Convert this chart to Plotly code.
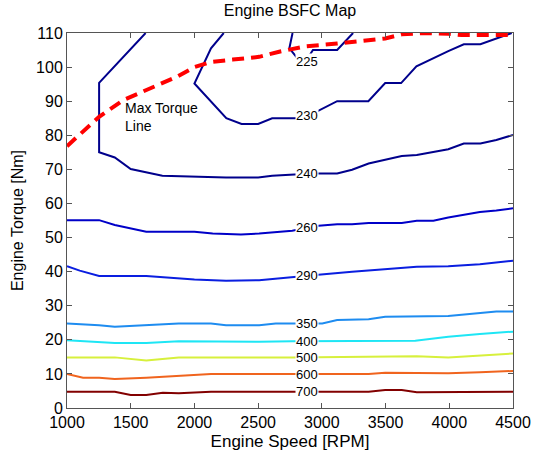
import plotly.graph_objects as go
import numpy as np

# ---- data ----
c225_x = [2770, 2745, 2800, 2870, 2930, 3120, 3245]
c225_y = [110, 105.5, 103.0, 101.5, 105, 105, 110]

c230_x = [2230, 2130, 2000, 2250, 2370, 2500, 2610, 2800, 2925, 3120, 3365, 3497, 3622, 3742, 3992, 4114, 4244, 4490]
c230_y = [110, 105.5, 95.2, 85, 83.3, 83.3, 85, 85, 86.3, 90, 90, 95.3, 95.3, 100.2, 104.7, 106.7, 106.7, 110]

c240_x = [1617, 1252, 1252, 1375, 1500, 1748, 2248, 2500, 2610, 2925, 3120, 3237, 3367, 3497, 3627, 3745, 3992, 4114, 4244, 4369, 4500]
c240_y = [110, 95.4, 75, 73.5, 70.1, 68.1, 67.6, 67.6, 68.1, 68.8, 68.8, 69.9, 71.7, 72.7, 73.9, 74.2, 75.9, 77.6, 77.6, 78.6, 80.1]

c260_x = [1000, 1252, 1375, 1622, 2000, 2143, 2365, 2508, 2768, 2950, 3120, 3237, 3367, 3627, 3745, 3875, 3992, 4240, 4369, 4500]
c260_y = [55.1, 55.1, 53.7, 51.7, 51.7, 51.2, 50.9, 51.2, 52, 53.4, 53.9, 53.9, 54.3, 54.3, 54.9, 54.9, 55.9, 57.5, 57.9, 58.6]

c290_x = [1000, 1100, 1252, 1622, 2000, 2248, 2508, 2768, 2950, 3237, 3497, 3745, 3992, 4240, 4500]
c290_y = [41.6, 40.3, 38.7, 38.7, 37.7, 37.3, 37.5, 38.3, 39, 40, 40.7, 41.4, 41.6, 42.2, 43.2]

c350_x = [1000, 1252, 1375, 1622, 1877, 2130, 2248, 2508, 2638, 3003, 3120, 3367, 3497, 3992, 4240, 4369, 4500]
c350_y = [24.8, 24.3, 23.8, 24.3, 24.8, 24.8, 24.3, 24.3, 24.8, 24.8, 25.8, 26, 26.8, 27, 27.8, 28.3, 28.3]

c400_x = [1000, 1375, 1622, 1877, 2508, 2768, 3733, 3992, 4240, 4500]
c400_y = [19.9, 19.1, 19.1, 19.6, 19.4, 19.6, 19.7, 20.9, 21.7, 22.4]

c500_x = [1000, 1375, 1622, 1877, 2768, 3497, 3745, 3992, 4240, 4500]
c500_y = [14.85, 14.85, 13.9, 14.85, 14.85, 15.0, 15.2, 14.85, 15.5, 16.0]

c600_x = [1000, 1126, 1252, 1375, 1622, 1877, 2130, 2768, 3367, 3497, 3992, 4240, 4500]
c600_y = [9.97, 8.9, 8.9, 8.5, 8.9, 9.4, 9.97, 9.97, 9.97, 10.35, 10.2, 10.5, 10.85]

c700_x = [1000, 1375, 1500, 1622, 1752, 1877, 2130, 2768, 3367, 3497, 3627, 3745, 4500]
c700_y = [4.78, 4.78, 3.8, 3.8, 4.5, 4.3, 4.78, 4.78, 4.78, 5.28, 5.28, 4.6, 4.78]

levels = [225, 230, 240, 260, 290, 350, 400, 500, 600, 700]
contour_x = [c225_x, c230_x, c240_x, c260_x, c290_x, c350_x, c400_x, c500_x, c600_x, c700_x]
contour_y = [c225_y, c230_y, c240_y, c260_y, c290_y, c350_y, c400_y, c500_y, c600_y, c700_y]
colors = ["#00008C", "#00008C", "#00008C", "#0000C8", "#0A1EE0", "#1E8CF0",
          "#1EE6F5", "#D7F03C", "#F0641E", "#820000"]

maxtq_x = [1000, 1252, 1440, 1622, 1870, 2000, 2130, 2300, 2508, 2665, 2872, 3120, 3342, 3497, 3627, 3810, 3992, 4096, 4278, 4500]
maxtq_y = [76.8, 85.4, 90.3, 93.2, 97.3, 100, 101.5, 102.2, 103, 104.5, 106.1, 106.9, 107.9, 108.4, 109.6, 110, 109.8, 109.4, 109.4, 109.4]

x_ticks = [1000, 1500, 2000, 2500, 3000, 3500, 4000, 4500]
y_ticks = list(range(0, 111, 10))
label_rpm = 2880

FONT = "Liberation Sans, Arial"

fig = go.Figure()
for lvl, xs, ys, col in zip(levels, contour_x, contour_y, colors):
    fig.add_trace(go.Scatter(x=xs, y=ys, mode="lines",
                             line=dict(color=col, width=2), hoverinfo="skip",
                             showlegend=False))

fig.add_trace(go.Scatter(x=maxtq_x, y=maxtq_y, mode="lines",
                         line=dict(color="#FF0000", width=4, dash="12px,7px"),
                         showlegend=False))

# contour labels placed on each contour at a common speed
for lvl, xs, ys in zip(levels, contour_x, contour_y):
    if lvl == 225:
        ly = min(ys)
    else:
        ly = float(np.interp(label_rpm, xs, ys))
    fig.add_annotation(x=label_rpm, y=ly, text=str(lvl), showarrow=False,
                       font=dict(family=FONT, size=13, color="black"),
                       bgcolor="white", borderpad=0, xanchor="center", yanchor="middle")

fig.add_annotation(x=1440, y=85.5, text="Max Torque<br>Line", showarrow=False,
                   align="left", xanchor="left", yanchor="middle",
                   font=dict(family=FONT, size=14, color="black"))

fig.update_layout(
    width=534, height=461,
    margin=dict(l=67, r=21, t=33, b=53, autoexpand=False),
    paper_bgcolor="white", plot_bgcolor="white",
    title=dict(text="Engine BSFC Map", x=0.5, xref="paper", y=0.99, yanchor="top",
               font=dict(family=FONT, size=16, color="black")),
    font=dict(family=FONT, size=16, color="black"),
)
fig.update_xaxes(range=[1000, 4500], tickvals=x_ticks, ticks="inside", ticklen=5,
                 automargin=False,
                 showgrid=False, zeroline=False, showline=True, linecolor="#555",
                 linewidth=1, mirror="ticks", tickcolor="#555",
                 title=dict(text="Engine Speed [RPM]", standoff=4,
                            font=dict(size=17)),
                 tickfont=dict(size=16))
fig.update_yaxes(range=[0, 110], tickvals=y_ticks, ticks="inside", ticklen=5,
                 automargin=False,
                 showgrid=False, zeroline=False, showline=True, linecolor="#555",
                 linewidth=1, mirror="ticks", tickcolor="#555",
                 title=dict(text="Engine Torque [Nm]", standoff=8,
                            font=dict(size=16)),
                 tickfont=dict(size=16))

fig.write_html("out.html")
